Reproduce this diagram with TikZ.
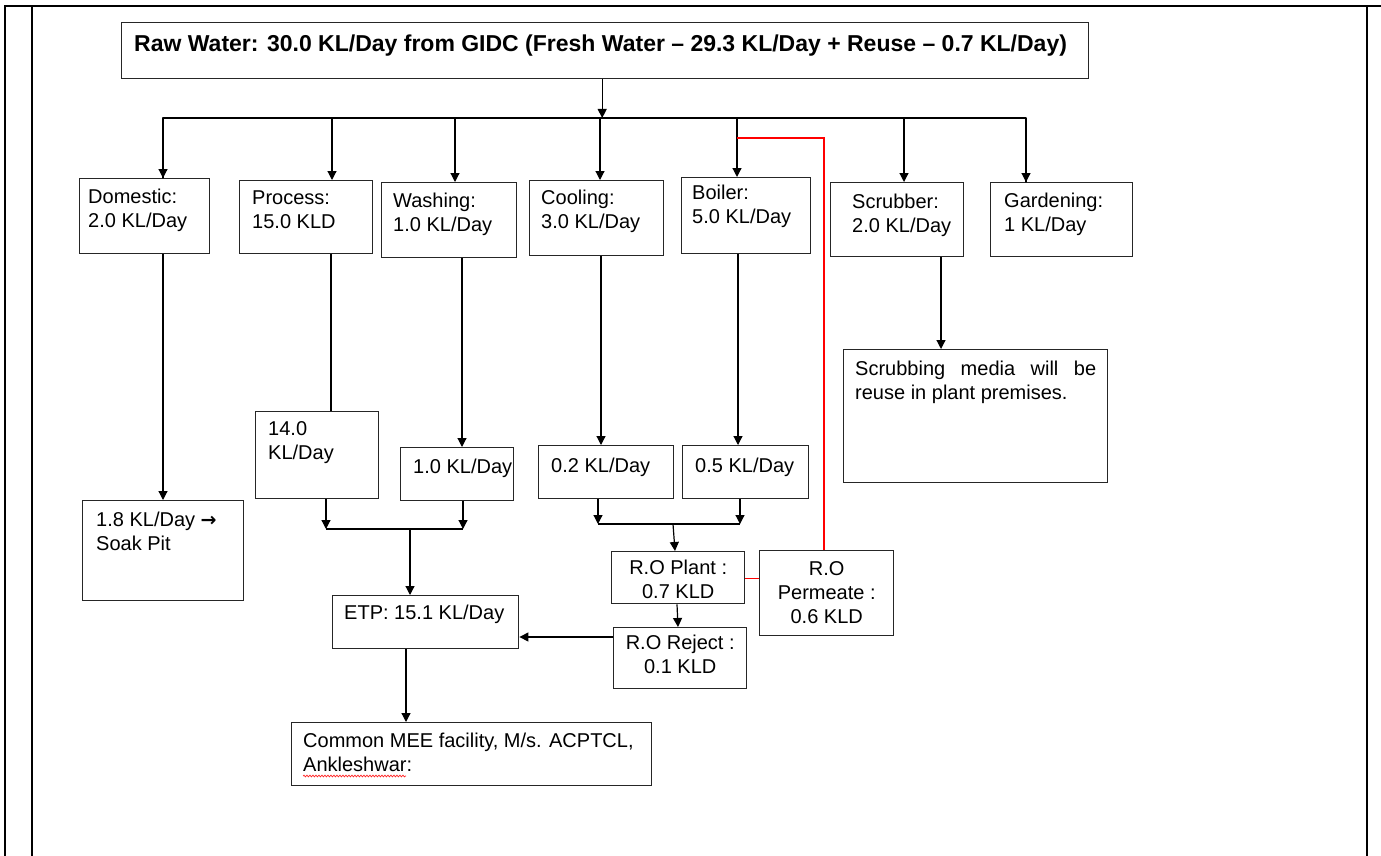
\documentclass[tikz,border=0pt]{standalone}
\usepackage{fontspec}
\setmainfont{Liberation Sans}
\newfontfamily\symfont{DejaVu Sans}
\usetikzlibrary{arrows.meta,calc,decorations.pathmorphing}
\begin{document}
\begin{tikzpicture}[x=1pt,y=-1pt,
  box/.style={draw=black!85, line width=1.4pt, anchor=north west, inner sep=0pt},
  txt/.style={anchor=north west, inner sep=0pt, align=left, font=\fontsize{20}{24}\selectfont},
  ctxt/.style={anchor=north, inner sep=0pt, align=center, font=\fontsize{20}{24}\selectfont},
  flow/.style={line width=1.2pt, -{Triangle[length=9pt,width=9pt]}},
  plain/.style={line width=1.2pt},
  reuse/.style={draw=red, line width=1.3pt},
  frame/.style={line width=2.2pt}]
\useasboundingbox (0,0) rectangle (1381,856);

% page frame of the table cell
\draw[frame] (4,6) -- (1381,6);
\draw[frame] (5,6) -- (5,856);
\draw[line width=1.8pt] (32,6) -- (32,856);
\draw[line width=2pt] (1367,6) -- (1367,856);

% source
\node[box, minimum width=967pt, minimum height=56pt] (raw) at (121,22) {};
\node[txt, font=\fontsize{23}{26}\selectfont\bfseries] (rawt) at ([shift={(13,13)}]raw.north west)
  {Raw Water: 30.0 KL/Day from GIDC (Fresh Water -- 29.3 KL/Day + Reuse -- 0.7 KL/Day)};

% consumers
\node[box, minimum width=130pt, minimum height=75pt] (dom) at (79,178) {};
\node[box, minimum width=133pt, minimum height=73pt] (pro) at (239,180) {};
\node[box, minimum width=135pt, minimum height=75pt] (was) at (381,182) {};
\node[box, minimum width=134pt, minimum height=75pt] (coo) at (529,180) {};
\node[box, minimum width=129pt, minimum height=76pt] (boi) at (681,177) {};
\node[box, minimum width=133pt, minimum height=74pt] (scr) at (830,182) {};
\node[box, minimum width=142pt, minimum height=74pt] (gar) at (990,182) {};
\node[txt] (domt) at ([shift={(9,11)}]dom.north west) {Domestic:\\2.0 KL/Day};
\node[txt] (prot) at ([shift={(13,11)}]pro.north west) {Process:\\15.0 KLD};
\node[txt] (wast) at ([shift={(12,11)}]was.north west) {Washing:\\1.0 KL/Day};
\node[txt] (coot) at ([shift={(12,10)}]coo.north west) {Cooling:\\3.0 KL/Day};
\node[txt] (boit) at ([shift={(11,8)}]boi.north west) {Boiler:\\5.0 KL/Day};
\node[txt] (scrt) at ([shift={(22,12)}]scr.north west) {Scrubber:\\2.0 KL/Day};
\node[txt] (gart) at ([shift={(14,11)}]gar.north west) {Gardening:\\1 KL/Day};

% outlets
\node[box, minimum width=264pt, minimum height=133pt] (med) at (843,349) {};
\node[txt, text width=241pt, align=justify] (medt) at ([shift={(12,12)}]med.north west)
  {Scrubbing media will be reuse in plant premises.};
\node[box, minimum width=123pt, minimum height=87pt] (p14) at (255,411) {};
\node[box, minimum width=113pt, minimum height=53pt] (w10) at (400,447) {};
\node[box, minimum width=135pt, minimum height=53pt] (c02) at (538,445) {};
\node[box, minimum width=126pt, minimum height=53pt] (b05) at (682,445) {};
\node[box, minimum width=161pt, minimum height=100pt] (d18) at (82,500) {};
\node[txt] (p14t) at ([shift={(13,10)}]p14.north west) {14.0\\KL/Day};
\node[txt] (w10t) at ([shift={(13,12)}]w10.north west) {1.0 KL/Day};
\node[txt] (c02t) at ([shift={(13,13)}]c02.north west) {0.2 KL/Day};
\node[txt] (b05t) at ([shift={(13,13)}]b05.north west) {0.5 KL/Day};
\node[txt] (d18t) at ([shift={(14,12)}]d18.north west) {1.8 KL/Day {\symfont\bfseries\fontsize{19}{24}\selectfont →}\\Soak Pit};

% treatment
\node[box, minimum width=186pt, minimum height=53pt] (etp) at (332,595) {};
\node[box, minimum width=133pt, minimum height=52pt] (rop) at (611,551) {};
\node[box, minimum width=134pt, minimum height=85pt] (rpe) at (759,550) {};
\node[box, minimum width=133pt, minimum height=61pt] (rrj) at (613,627) {};
\node[box, minimum width=360pt, minimum height=63pt] (mee) at (291,722) {};
\node[txt] (etpt) at ([shift={(12,10)}]etp.north west) {ETP: 15.1 KL/Day};
\node[ctxt] (ropt) at ([shift={(0,9)}]rop.north) {R.O Plant :\\0.7 KLD};
\node[ctxt] (rpet) at ([shift={(0,11)}]rpe.north) {R.O\\Permeate :\\0.6 KLD};
\node[ctxt] (rrjt) at ([shift={(0,8)}]rrj.north) {R.O Reject :\\0.1 KLD};
\node[txt] (meet) at ([shift={(12,11)}]mee.north west) {Common MEE facility, M/s. ACPTCL,\\Ankleshwar:};
\draw[red!85!white, line width=0.7pt, decorate, decoration={snake, amplitude=0.9pt, segment length=3pt}]
  ([shift={(12,54)}]mee.north west) -- ++(103,0);

% distribution header
\coordinate (b1) at (163,118);
\coordinate (b2) at (332,118);
\coordinate (b3) at (455,118);
\coordinate (b4) at (600,118);
\coordinate (b5) at (737,118);
\coordinate (b6) at (904,118);
\coordinate (b7) at (1026,118);
\draw[plain, line cap=round, line join=round] (dom.north -| b1) -- (b1) -- (b7) -- (gar.north -| b7);
\draw[flow] ([xshift=-3]raw.south) -- ([xshift=-3]raw.south |- b1);
\draw[flow] (b1) -- (dom.north -| b1);
\draw[flow] (b2) -- (pro.north -| b2);
\draw[flow] (b3) -- (was.north -| b3);
\draw[flow] (b4) -- (coo.north -| b4);
\draw[flow] (b5) -- (boi.north -| b5);
\draw[flow] (b6) -- (scr.north -| b6);
\draw[flow] (b7) -- (gar.north -| b7);

% effluent from each consumer
\coordinate (s2) at (331,0);
\coordinate (s3) at (462,0);
\coordinate (s4) at (601,0);
\coordinate (s5) at (738,0);
\coordinate (s6) at (941,0);
\draw[flow] (dom.south -| b1) -- (d18.north -| b1);
\draw[plain] (pro.south -| s2) -- (p14.north -| s2);
\draw[flow] (was.south -| s3) -- (w10.north -| s3);
\draw[flow] (coo.south -| s4) -- (c02.north -| s4);
\draw[flow] (boi.south -| s5) -- (b05.north -| s5);
\draw[flow] (scr.south -| s6) -- (med.north -| s6);

% collection to ETP
\coordinate (j1l) at (326,529);
\coordinate (j1r) at (463,529);
\coordinate (j1m) at (410,529);
\draw[flow] (p14.south -| j1l) -- (j1l);
\draw[flow] (w10.south -| j1r) -- (j1r);
\draw[plain] (j1l) -- (j1r);
\draw[flow] (j1m) -- (etp.north -| j1m);

% collection to R.O plant
\coordinate (j2l) at (598,524);
\coordinate (j2r) at (740,524);
\coordinate (j2m) at (673,524);
\draw[flow] (c02.south -| j2l) -- (j2l);
\draw[flow] (b05.south -| j2r) -- (j2r);
\draw[plain] (j2l) -- (j2r);
\draw[flow] (j2m) -- ([xshift=2]rop.north -| j2m);

% R.O streams
\coordinate (rj) at (677,0);
\coordinate (et) at (406,0);
\coordinate (rjy) at (0,637);
\draw[flow] (rop.south -| rj) -- ([xshift=1]rrj.north -| rj);
\draw[flow] (rrj.west |- rjy) -- (etp.east |- rjy);
\draw[flow] (etp.south -| et) -- (mee.north -| et);

% permeate returned to the header
\coordinate (rt) at (824,138);
\coordinate (rl) at (737,138);
\coordinate (ry) at (0,578.5);
\draw[reuse, line width=1.6pt] (rop.east |- ry) -- (rpe.west |- ry);
\draw[reuse] (rpe.north -| rt) -- (rt) -- (rl);
\end{tikzpicture}
\end{document}
